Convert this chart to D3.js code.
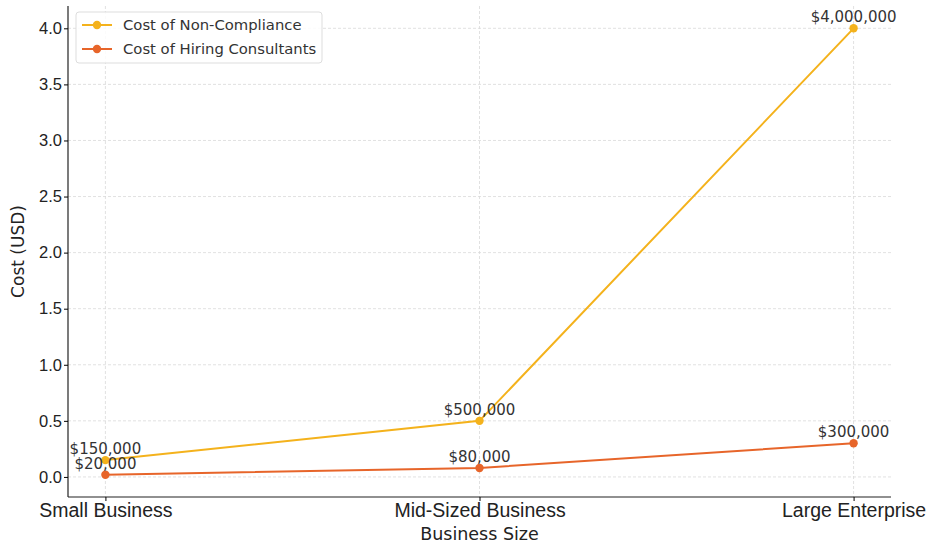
<!DOCTYPE html>
<html>
<head>
<meta charset="utf-8">
<script src="https://cdn.jsdelivr.net/npm/d3@7"></script>
<style>
  body { margin: 0; background: #fff; }
  svg { display: block; font-family: "DejaVu Sans", sans-serif; }
</style>
</head>
<body>
<svg id="chart"></svg>
<script>
// data (millions of USD)
var categories = ["Small Business", "Mid-Sized Business", "Large Enterprise"];
var nonCompliance = [0.15, 0.5, 4.0];
var consultants = [0.02, 0.08, 0.3];
var nonComplianceLabels = ["$150,000", "$500,000", "$4,000,000"];
var consultantLabels = ["$20,000", "$80,000", "$300,000"];
var yTicks = [0, 0.5, 1, 1.5, 2, 2.5, 3, 3.5, 4];

var series = [
  { name: "Cost of Non-Compliance", values: nonCompliance, labels: nonComplianceLabels, color: "#f4b21c" },
  { name: "Cost of Hiring Consultants", values: consultants, labels: consultantLabels, color: "#e7652a" }
];

var svgWidth = 937, svgHeight = 541;
var margin = { top: 6, right: 46, bottom: 44, left: 68 };
var chartWidth = svgWidth - margin.left - margin.right;
var chartHeight = 497 - margin.top;

var svg = d3.select("#chart")
  .attr("width", svgWidth)
  .attr("height", svgHeight);

var chart = svg.append("g")
  .attr("transform", "translate(" + margin.left + "," + margin.top + ")");

// matplotlib style 5% margins
var xScale = d3.scaleLinear().domain([-0.1, 2.1]).range([0, chartWidth]);
var yScale = d3.scaleLinear().domain([-0.179, 4.199]).range([chartHeight, 0]);

// grid
chart.append("g").selectAll("line")
  .data(yTicks)
  .enter().append("line")
  .attr("x1", 0).attr("x2", chartWidth)
  .attr("y1", function (d) { return yScale(d); })
  .attr("y2", function (d) { return yScale(d); })
  .attr("stroke", "#d9d9d9").attr("stroke-width", 0.8).attr("stroke-dasharray", "3,2");

chart.append("g").selectAll("line")
  .data(categories)
  .enter().append("line")
  .attr("x1", function (d, i) { return xScale(i); })
  .attr("x2", function (d, i) { return xScale(i); })
  .attr("y1", 0).attr("y2", chartHeight)
  .attr("stroke", "#d9d9d9").attr("stroke-width", 0.8).attr("stroke-dasharray", "3,2");

// axes
var yAxis = chart.append("g")
  .call(d3.axisLeft(yScale).tickValues(yTicks).tickFormat(d3.format(".1f")).tickSize(4).tickPadding(2));
yAxis.select(".domain").attr("stroke", "#222").attr("stroke-width", 1.2).attr("d", "M0,0V" + chartHeight);
yAxis.selectAll("text").style("font-size", "16.5px").attr("fill", "#222");

var xAxis = chart.append("g")
  .attr("transform", "translate(0," + chartHeight + ")")
  .call(d3.axisBottom(xScale).tickValues([0, 1, 2]).tickFormat(function (d) { return categories[d]; }).tickSize(4).tickPadding(2));
xAxis.select(".domain").attr("stroke", "#222").attr("stroke-width", 1.2).attr("d", "M0,0H" + chartWidth);
xAxis.selectAll("text").style("font-size", "19.5px").attr("fill", "#222");

// axis titles
svg.append("text")
  .attr("x", margin.left + xScale(1))
  .attr("y", 540)
  .attr("text-anchor", "middle")
  .style("font-size", "17.5px")
  .attr("fill", "#222")
  .text("Business Size");

svg.append("text")
  .attr("transform", "translate(24," + (margin.top + chartHeight / 2) + ") rotate(-90)")
  .attr("text-anchor", "middle")
  .style("font-size", "17px")
  .attr("fill", "#222")
  .text("Cost (USD)");

// lines, markers and labels
var line = d3.line()
  .x(function (d, i) { return xScale(i); })
  .y(function (d) { return yScale(d); });

series.forEach(function (s) {
  chart.append("path")
    .datum(s.values)
    .attr("d", line)
    .attr("fill", "none")
    .attr("stroke", s.color)
    .attr("stroke-width", 2);

  chart.selectAll(null)
    .data(s.values)
    .enter().append("circle")
    .attr("cx", function (d, i) { return xScale(i); })
    .attr("cy", function (d) { return yScale(d); })
    .attr("r", 4.2)
    .attr("fill", s.color);

  chart.selectAll(null)
    .data(s.values)
    .enter().append("text")
    .attr("x", function (d, i) { return xScale(i); })
    .attr("y", function (d) { return yScale(d) - 6; })
    .attr("text-anchor", "middle")
    .style("font-size", "15px")
    .attr("fill", "#333")
    .text(function (d, i) { return s.labels[i]; });
});

// legend
var legend = svg.append("g").attr("transform", "translate(76,12)");
legend.append("rect")
  .attr("width", 246).attr("height", 51)
  .attr("rx", 3)
  .attr("fill", "#fff").attr("fill-opacity", 0.85)
  .attr("stroke", "#dddddd");

series.forEach(function (s, i) {
  var row = legend.append("g").attr("transform", "translate(0," + (13 + i * 24) + ")");
  row.append("line")
    .attr("x1", 6).attr("x2", 36)
    .attr("stroke", s.color).attr("stroke-width", 2);
  row.append("circle")
    .attr("cx", 21).attr("r", 4.2).attr("fill", s.color);
  row.append("text")
    .attr("x", 47).attr("y", 5)
    .style("font-size", "14.8px")
    .attr("fill", "#333")
    .text(s.name);
});
</script>
</body>
</html>
